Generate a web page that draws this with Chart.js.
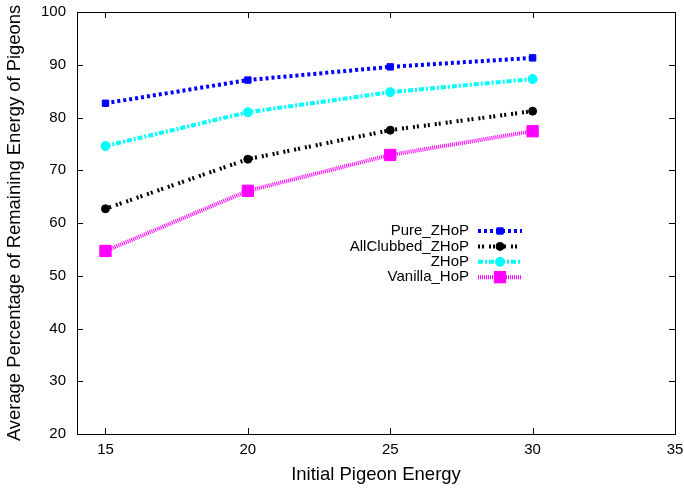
<!DOCTYPE html>
<html>
<head>
<meta charset="utf-8">
<script src="https://cdn.jsdelivr.net/npm/chart.js@4.4.1/dist/chart.umd.min.js"></script>
<style>
    html, body { margin: 0; padding: 0; background: #fff; }
    #wrap { width: 684px; height: 488px; }
</style>
</head>
<body>
<div id="wrap"><canvas id="c"></canvas></div>
<script>
// data
const energies = [15, 20, 25, 30];
const pureZHoP = [82.7, 87.1, 89.6, 91.3];
const allClubbedZHoP = [62.7, 72.1, 77.6, 81.2];
const zHoP = [74.6, 81.0, 84.8, 87.3];
const vanillaHoP = [54.7, 66.1, 72.9, 77.4];
const seriesNames = ['Pure_ZHoP', 'AllClubbed_ZHoP', 'ZHoP', 'Vanilla_HoP'];
const xTicks = [15, 20, 25, 30, 35];
const yTicks = [20, 30, 40, 50, 60, 70, 80, 90, 100];

Chart.defaults.font.family = "'Liberation Sans', Arial, sans-serif";
Chart.defaults.color = '#000';

const toPoints = vals => vals.map((v, i) => ({ x: energies[i], y: v }));

const styles = [
    { color: '#0000ff', dash: [3, 3], style: 'rect', radius: 4.5 },
    { color: '#000000', dash: [2, 2, 2, 5], style: 'circle', radius: 4 },
    { color: '#00ffff', dash: [5, 2, 2, 2], style: 'circle', radius: 4.5 },
    { color: '#ff00ff', dash: [1, 1], style: 'rect', radius: 8 }
];
const seriesValues = [pureZHoP, allClubbedZHoP, zHoP, vanillaHoP];

const datasets = seriesValues.map((vals, i) => ({
    label: seriesNames[i],
    data: toPoints(vals),
    borderColor: styles[i].color,
    backgroundColor: styles[i].color,
    borderWidth: 4,
    borderDash: styles[i].dash,
    pointStyle: styles[i].style,
    pointRadius: styles[i].radius,
    pointBorderWidth: 1,
    tension: 0
}));

// gnuplot-like frame with inward ticks on all four sides
const frameTicks = {
    id: 'frameTicks',
    afterDraw(chart) {
        const { ctx, chartArea: a, scales: { x, y } } = chart;
        ctx.save();
        ctx.strokeStyle = '#000';
        ctx.lineWidth = 1;
        ctx.setLineDash([]);
        ctx.strokeRect(a.left + 0.5, a.top + 0.5, a.right - a.left, a.bottom - a.top);
        ctx.beginPath();
        xTicks.forEach(v => {
            const px = Math.round(x.getPixelForValue(v)) + 0.5;
            ctx.moveTo(px, a.bottom); ctx.lineTo(px, a.bottom - 6);
            ctx.moveTo(px, a.top); ctx.lineTo(px, a.top + 6);
        });
        yTicks.forEach(v => {
            const py = Math.round(y.getPixelForValue(v)) + 0.5;
            ctx.moveTo(a.left, py); ctx.lineTo(a.left + 6, py);
            ctx.moveTo(a.right, py); ctx.lineTo(a.right - 6, py);
        });
        ctx.stroke();
        ctx.restore();
    }
};

// legend inside the plot, text right-aligned with a sample to its right
const keyBox = {
    id: 'keyBox',
    afterDraw(chart) {
        const ctx = chart.ctx;
        ctx.save();
        ctx.font = "15px 'Liberation Sans', Arial, sans-serif";
        ctx.textAlign = 'right';
        ctx.textBaseline = 'middle';
        chart.data.datasets.forEach((ds, i) => {
            const yy = 231 + i * 15.4;
            ctx.fillStyle = '#000';
            ctx.fillText(ds.label, 469, yy);
            ctx.strokeStyle = ds.borderColor;
            ctx.lineWidth = ds.borderWidth;
            ctx.setLineDash(ds.borderDash);
            ctx.beginPath();
            ctx.moveTo(478, yy);
            ctx.lineTo(522, yy);
            ctx.stroke();
            ctx.setLineDash([]);
            ctx.fillStyle = ds.backgroundColor;
            ctx.strokeStyle = ds.borderColor;
            ctx.lineWidth = 1;
            Chart.helpers.drawPoint(ctx, {
                pointStyle: ds.pointStyle, radius: ds.pointRadius, borderWidth: 1, rotation: 0
            }, 500, yy);
        });
        ctx.restore();
    }
};

new Chart(document.getElementById('c'), {
    type: 'line',
    data: { datasets: datasets },
    options: {
        responsive: true,
        maintainAspectRatio: false,
        animation: false,
        layout: { padding: { top: 12, right: 8, left: 0, bottom: 0 } },
        plugins: {
            legend: { display: false },
            tooltip: { enabled: false }
        },
        scales: {
            x: {
                type: 'linear',
                min: 14,
                max: 35,
                afterBuildTicks: s => { s.ticks = xTicks.map(v => ({ value: v })); },
                afterFit: s => { s.height = 54; s.paddingLeft = 0; s.paddingRight = 0; },
                grid: { display: false, drawTicks: false },
                border: { display: false },
                ticks: { font: { size: 15 }, padding: 7, maxRotation: 0 },
                title: {
                    display: true,
                    text: 'Initial Pigeon Energy',
                    font: { size: 18.5 },
                    padding: { top: 0, bottom: 2 }
                }
            },
            y: {
                min: 20,
                max: 100,
                afterBuildTicks: s => { s.ticks = yTicks.map(v => ({ value: v })); },
                afterFit: s => { s.width = 77; s.paddingTop = 0; s.paddingBottom = 0; },
                grid: { display: false, drawTicks: false },
                border: { display: false },
                ticks: { font: { size: 15 }, padding: 11 },
                title: {
                    display: true,
                    text: 'Average Percentage of Remaining Energy of Pigeons',
                    font: { size: 18.4 },
                    padding: { top: 4, bottom: 0 }
                }
            }
        }
    },
    plugins: [frameTicks, keyBox]
});
</script>
</body>
</html>
